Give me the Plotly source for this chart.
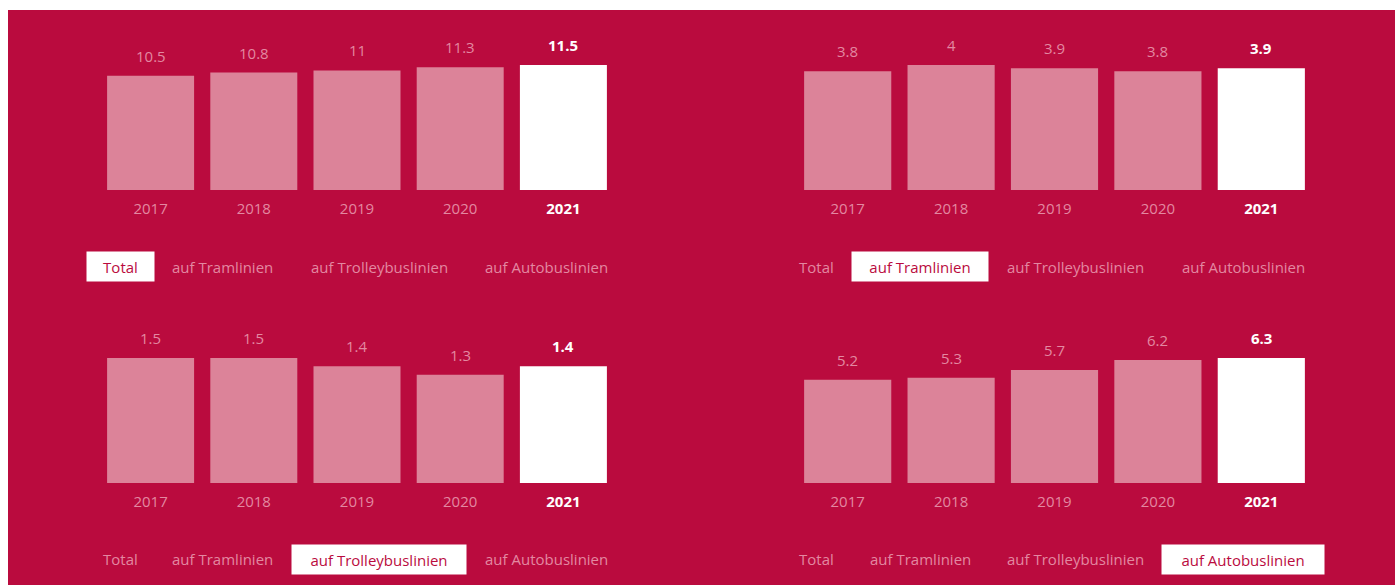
import plotly.graph_objects as go

years = ["2017", "2018", "2019", "2020", "2021"]
total = [10.5, 10.8, 11, 11.3, 11.5]
tram = [3.8, 4, 3.9, 3.8, 3.9]
trolley = [1.5, 1.5, 1.4, 1.3, 1.4]
autobus = [5.2, 5.3, 5.7, 6.2, 6.3]
tabs = ["Total", "auf Tramlinien", "auf Trolleybuslinien", "auf Autobuslinien"]

CRIMSON = "#BA0B3E"
PINK_BAR = "#DC8399"
PINK_TXT = "#E388A1"
FONT = "Segoe UI, Open Sans, sans-serif"

W, H = 1395, 585


def px(x):
    return x / W


def py(y):
    return 1 - y / H


fig = go.Figure()
series = [total, tram, trolley, autobus]
xdom = [[px(99), px(615)], [px(796), px(1313)], [px(99), px(615)], [px(796), px(1313)]]
ydom = [[py(190), py(40)], [py(190), py(40)], [py(483), py(333)], [py(483), py(333)]]
taby = [py(267), py(267), py(559), py(559)]
tabx_left = [px(120), px(222), px(379), px(546)]
tabx_right = [px(817), px(920), px(1075), px(1243)]
tabw = [67, 136, 174, 162]

annotations = []
for i, vals in enumerate(series):
    n = "" if i == 0 else str(i + 1)
    colors = [PINK_BAR] * (len(vals) - 1) + ["#FFFFFF"]
    fig.add_trace(go.Bar(x=years, y=vals, marker=dict(color=colors, line=dict(width=0)),
                         xaxis="x" + n, yaxis="y" + n, hoverinfo="skip", showlegend=False))
    ticktext = years[:-1] + ["<span style='color:#FFFFFF'><b>" + years[-1] + "</b></span>"]
    fig.update_layout(**{
        "xaxis" + n: dict(domain=xdom[i], anchor="y" + n, type="category",
                          categoryorder="array", categoryarray=years,
                          range=[-0.5, len(years) - 0.5], autorange=False,
                          tickvals=years, ticktext=ticktext, ticks="", showgrid=False,
                          zeroline=False, showline=False, ticklabelstandoff=8,
                          tickfont=dict(family=FONT, size=15, color=PINK_TXT), fixedrange=True),
        "yaxis" + n: dict(domain=ydom[i], anchor="x" + n, range=[0, max(vals) * 1.2],
                          autorange=False, visible=False, fixedrange=True),
    })
    for j, v in enumerate(vals):
        last = j == len(vals) - 1
        annotations.append(dict(
            x=j, y=v, xref="x" + n, yref="y" + n, showarrow=False, yanchor="middle",
            yshift=20, text=("<b>%g</b>" % v) if last else ("%g" % v),
            font=dict(family=FONT, size=15, color="#FFFFFF" if last else PINK_TXT)))
    xs = tabx_left if i % 2 == 0 else tabx_right
    for k, t in enumerate(tabs):
        sel = k == i
        a = dict(x=xs[k], y=taby[i], xref="paper", yref="paper", showarrow=False,
                 xanchor="center", yanchor="middle", text=t,
                 font=dict(family=FONT, size=15, color=CRIMSON if sel else PINK_TXT))
        if sel:
            a.update(bgcolor="#FFFFFF", width=tabw[k], height=29, borderpad=0)
        annotations.append(a)

fig.update_layout(
    width=W, height=H, margin=dict(l=0, r=0, t=0, b=0),
    paper_bgcolor="#FFFFFF", plot_bgcolor="rgba(0,0,0,0)",
    bargap=0.157, annotations=annotations,
    shapes=[dict(type="rect", xref="paper", yref="paper", x0=px(8), x1=1, y0=0, y1=py(10),
                 fillcolor=CRIMSON, line=dict(width=0), layer="below")],
)
fig.write_html("out.html", config={"displayModeBar": False},
               post_script="document.body.style.margin='0';document.body.style.overflow='hidden';")
